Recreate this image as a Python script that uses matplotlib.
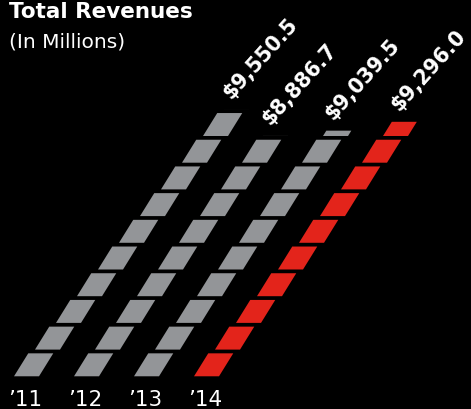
import numpy as np
import matplotlib.pyplot as plt
from matplotlib.patches import Polygon

years = ["\u201911", "\u201912", "\u201913", "\u201914"]
revenues = [9550.5, 8886.7, 9039.5, 9296.0]
value_labels = ["$9,550.5", "$8,886.7", "$9,039.5", "$9,296.0"]

GREY = "#939598"
RED = "#e3241b"
BG = "#000000"

# visual axis: truncated, each segment ("slot") stands for a fixed amount
BASE = 2900.0
UNIT = 665.0
FILL = 0.86       # part of the slot that is drawn, the rest is a gap
STEP = 0.35       # sideways shift per slot, in column widths
SHEAR = 0.276     # slant inside a segment, column widths per slot
WIDTH = 0.417     # horizontal width of a segment, column widths


def main():
    fig = plt.figure(figsize=(4.71, 4.10), dpi=100, facecolor=BG)
    ax = fig.add_axes([0, 0, 1, 1])
    ax.set_facecolor(BG)
    ax.set_xlim(-14 / 60, (471 - 14) / 60)
    ax.set_ylim(BASE - 1.225 * UNIT, BASE + 14.131 * UNIT)
    ax.axis("off")

    for i, v in enumerate(revenues):
        color = RED if i == len(revenues) - 1 else GREY
        h = (v - BASE) / UNIT
        k = 0
        top_left = None
        while k < h:
            frac = min(1.0, h - k)
            s0 = k
            s1 = k + FILL * frac
            x0 = i + STEP * k
            x1 = x0 + SHEAR * FILL * frac
            pts = [(x0, BASE + s0 * UNIT), (x0 + WIDTH, BASE + s0 * UNIT),
                   (x1 + WIDTH, BASE + s1 * UNIT), (x1, BASE + s1 * UNIT)]
            ax.add_patch(Polygon(pts, closed=True, facecolor=color, edgecolor="none"))
            top_left = (x1, BASE + s1 * UNIT)
            k += 1

        ax.text(top_left[0] + 0.12, top_left[1] + 0.40 * UNIT, value_labels[i],
                rotation=48, rotation_mode="anchor", ha="left", va="baseline",
                color="white", fontsize=14.8, fontweight="bold", family="DejaVu Sans")

        ax.text(i - 0.1, BASE - 0.85 * UNIT, years[i], ha="left", va="center",
                color="white", fontsize=15.5, family="DejaVu Sans")

    fig.text(9 / 471, 1 - 2 / 410, "Total Revenues", ha="left", va="top",
             color="white", fontsize=15.5, fontweight="bold", family="DejaVu Sans")
    fig.text(9 / 471, 1 - 32 / 410, "(In Millions)", ha="left", va="top",
             color="white", fontsize=14.5, family="DejaVu Sans")

    fig.savefig("out.png", dpi=100, facecolor=BG)


if __name__ == "__main__":
    main()
